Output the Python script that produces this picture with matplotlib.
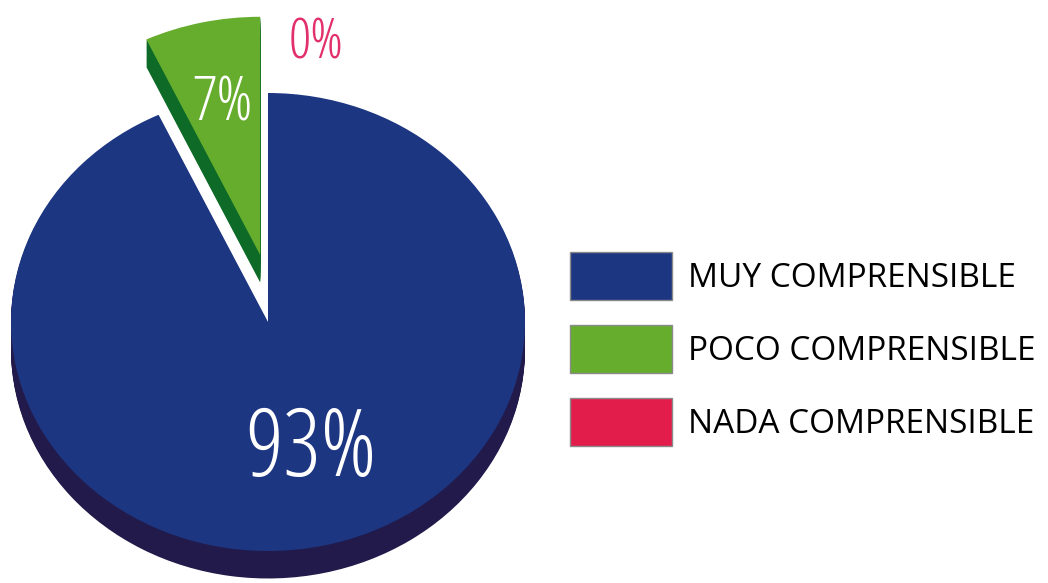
import numpy as np
import matplotlib
matplotlib.use('Agg')
import matplotlib.pyplot as plt
from matplotlib.patches import Patch

# === 数据 ===
categories = ['MUY COMPRENSIBLE', 'POCO COMPRENSIBLE', 'NADA COMPRENSIBLE']
values = [93, 7, 0]
pct_labels = ['93%', '7%', '0%']

# === 样式 ===
face_colors = ['#1d3682', '#66ad2e', '#e31d4b']
side_colors = ['#211a4a', '#0e6a27', '#a0122f']
explode = [0, 0.30, 0]
green_dx = 0.035      # 分离扇区再向右挪一点
green_r = 1.04
depth = 0.12          # 饼图厚度（纵向单位）
rx_px, ry_px = 257, 229
cx_px, cy_px = 268, 322
W, H = 1048, 583

fig = plt.figure(figsize=(W / 100, H / 100), dpi=100)
ax = fig.add_axes([0, 0, 1, 1])


def draw_layer(colors, dy):
    ws, _ = ax.pie(values, colors=colors, startangle=90, counterclock=False,
                   explode=explode, center=(0, dy), radius=1.0,
                   wedgeprops=dict(linewidth=0))
    cx, cy = ws[1].center
    ws[1].set_center((cx + green_dx, cy))
    ws[1].set_radius(green_r)
    return ws


# 侧面：向下叠加多层深色饼
for k in np.linspace(depth, 0.005, 25):
    draw_layer(side_colors, -k)

# 顶面
wedges = draw_layer(face_colors, 0)

# 椭圆化：x/y 单位不同
ax.set_aspect('auto')
ax.set_xlim(-cx_px / rx_px, (W - cx_px) / rx_px)
ax.set_ylim(-(H - cy_px) / ry_px, cy_px / ry_px)
ax.axis('off')

# 百分比标签（顺时针排列，与饼图一致）
pct_font = dict(family='Open Sans', fontstretch='condensed', fontweight='light')
cum = np.cumsum([0] + values)
label_style = {0: (0.58, 68, 0.04), 1: (0.67, 44, 0.0)}   # 半径, 字号, 横向微调
for i, (v, lab) in enumerate(zip(values, pct_labels)):
    if i not in label_style:
        continue
    r, size, off = label_style[i]
    mid = np.deg2rad(90 - 360 * (cum[i] + cum[i + 1]) / 2 / sum(values))
    cx, cy = wedges[i].center
    ax.text(cx + r * np.cos(mid) + off, cy + r * np.sin(mid), lab,
            ha='center', va='center', color='white', fontsize=size, **pct_font)

# 0% 标签
ax.text((316 - cx_px) / rx_px, (cy_px - 44) / ry_px, pct_labels[2],
        ha='center', va='center', color='#e2306a', fontsize=40, **pct_font)

# 图例
handles = [Patch(facecolor=c, edgecolor='#8a8a8a', linewidth=1) for c in face_colors]
fs = 24
fpx = fs * 100 / 72
fig.legend(handles, categories, loc='upper left',
           bbox_to_anchor=(570 / W, 1 - 252 / H), frameon=False,
           borderpad=0, borderaxespad=0, prop=dict(family='Open Sans', size=fs),
           handlelength=102 / fpx, handleheight=1.84,
           labelspacing=25 / fpx, handletextpad=16 / fpx)

fig.savefig('out.png', dpi=100)
